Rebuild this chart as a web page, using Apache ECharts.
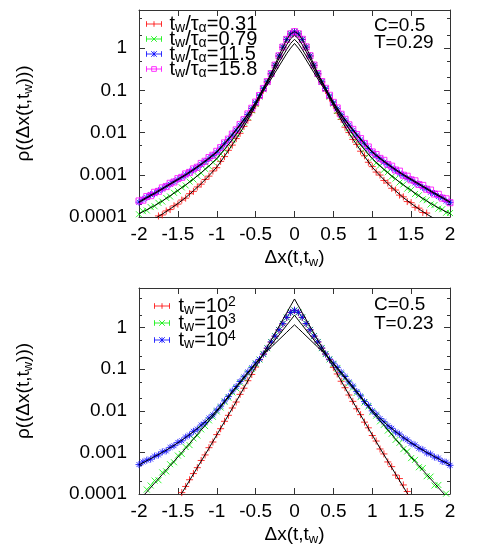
<!DOCTYPE html>
<html>
<head>
<meta charset="utf-8">
<title>rho(dx)</title>
<script src="https://cdn.jsdelivr.net/npm/echarts@6/dist/echarts.min.js"></script>
<style>
  html, body { margin: 0; padding: 0; background: #fff; }
  #chart { width: 485px; height: 555px; }
</style>
</head>
<body>
<div id="chart"></div>
<script>
// x positions of the measured points (step 0.05) and of the fit curves
const xData = [-2, -1.95, -1.9, -1.85, -1.8, -1.75, -1.7, -1.65, -1.6, -1.55,
  -1.5, -1.45, -1.4, -1.35, -1.3, -1.25, -1.2, -1.15, -1.1, -1.05,
  -1, -0.95, -0.9, -0.85, -0.8, -0.75, -0.7, -0.65, -0.6, -0.55,
  -0.5, -0.45, -0.4, -0.35, -0.3, -0.25, -0.2, -0.15, -0.1, -0.05,
  0,
  0.05, 0.1, 0.15, 0.2, 0.25, 0.3, 0.35, 0.4, 0.45, 0.5,
  0.55, 0.6, 0.65, 0.7, 0.75, 0.8, 0.85, 0.9, 0.95, 1,
  1.05, 1.1, 1.15, 1.2, 1.25, 1.3, 1.35, 1.4, 1.45, 1.5,
  1.55, 1.6, 1.65, 1.7, 1.75, 1.8, 1.85, 1.9, 1.95, 2];
const xFit = [-2, -1.9, -1.8, -1.7, -1.6, -1.5, -1.4, -1.3, -1.2, -1.1,
  -1, -0.9, -0.8, -0.7, -0.6, -0.5, -0.4, -0.3, -0.2, -0.1,
  -0.05, 0, 0.05,
  0.1, 0.2, 0.3, 0.4, 0.5, 0.6, 0.7, 0.8, 0.9, 1,
  1.1, 1.2, 1.3, 1.4, 1.5, 1.6, 1.7, 1.8, 1.9, 2];

// ---- top panel, C=0.5 T=0.29 ----
const top031 = [0.000058, 0.000062, 0.000069, 0.000082, 0.000088, 0.000106, 0.000112, 0.000139, 0.000150, 0.000184,
  0.000202, 0.000252, 0.000280, 0.000356, 0.000405, 0.000515, 0.000600, 0.000775, 0.000930, 0.00123,
  0.00147, 0.00208, 0.00270, 0.00380, 0.00505, 0.00720, 0.00960, 0.0140, 0.0196, 0.0300,
  0.0432, 0.0668, 0.101, 0.156, 0.243, 0.388, 0.645, 1.04, 1.59, 2.15,
  2.42,
  2.16, 1.60, 1.05, 0.648, 0.390, 0.244, 0.157, 0.0990, 0.0655, 0.0445,
  0.0288, 0.0205, 0.0134, 0.0100, 0.00690, 0.00525, 0.00362, 0.00282, 0.00198, 0.00156,
  0.00116, 0.000985, 0.000735, 0.000640, 0.000480, 0.000435, 0.000330, 0.000300, 0.000232, 0.000218,
  0.000170, 0.000162, 0.000128, 0.000124, 0.0000980, 0.0000950, 0.0000760, 0.0000720, 0.0000600, 0.0000560];
const top079 = [0.000116, 0.000138, 0.000143, 0.000172, 0.000180, 0.000216, 0.000232, 0.000283, 0.000306, 0.000374,
  0.000415, 0.000503, 0.000560, 0.000690, 0.000775, 0.000950, 0.00110, 0.00138, 0.00159, 0.00199,
  0.00236, 0.00315, 0.00392, 0.00520, 0.00668, 0.00925, 0.0121, 0.0172, 0.0231, 0.0335,
  0.0474, 0.0712, 0.106, 0.158, 0.245, 0.390, 0.650, 1.05, 1.60, 2.16,
  2.43,
  2.16, 1.60, 1.05, 0.650, 0.390, 0.245, 0.158, 0.107, 0.0700, 0.0485,
  0.0325, 0.0238, 0.0166, 0.0126, 0.00890, 0.00690, 0.00500, 0.00405, 0.00300, 0.00246,
  0.00190, 0.00166, 0.00131, 0.00115, 0.000905, 0.000815, 0.000655, 0.000590, 0.000470, 0.000440,
  0.000350, 0.000328, 0.000262, 0.000250, 0.000198, 0.000192, 0.000158, 0.000153, 0.000126, 0.000124];
const top115 = [0.000225, 0.000262, 0.000290, 0.000340, 0.000355, 0.000420, 0.000460, 0.000540, 0.000600, 0.000690,
  0.000770, 0.000880, 0.000990, 0.00116, 0.00131, 0.00152, 0.00176, 0.00208, 0.00243, 0.00288,
  0.00342, 0.00430, 0.00545, 0.00680, 0.00880, 0.0114, 0.0150, 0.0198, 0.0268, 0.0370,
  0.0512, 0.0745, 0.110, 0.160, 0.248, 0.394, 0.655, 1.06, 1.61, 2.17,
  2.44,
  2.17, 1.61, 1.06, 0.655, 0.394, 0.248, 0.160, 0.110, 0.0740, 0.0508,
  0.0366, 0.0265, 0.0196, 0.0149, 0.0112, 0.00875, 0.00670, 0.00540, 0.00420, 0.00340,
  0.00278, 0.00240, 0.00200, 0.00174, 0.00146, 0.00129, 0.00109, 0.000975, 0.000830, 0.000765,
  0.000640, 0.000595, 0.000500, 0.000465, 0.000385, 0.000360, 0.000305, 0.000285, 0.000238, 0.000222];
const top158 = [0.000240, 0.000250, 0.000305, 0.000320, 0.000385, 0.000405, 0.000490, 0.000525, 0.000630, 0.000675,
  0.000810, 0.000870, 0.00105, 0.00114, 0.00138, 0.00151, 0.00186, 0.00209, 0.00256, 0.00290,
  0.00360, 0.00440, 0.00570, 0.00700, 0.00920, 0.0116, 0.0156, 0.0202, 0.0277, 0.0377,
  0.0528, 0.0755, 0.111, 0.161, 0.250, 0.396, 0.658, 1.06, 1.61, 2.18,
  2.46,
  2.19, 1.62, 1.07, 0.661, 0.398, 0.251, 0.162, 0.112, 0.0765, 0.0520,
  0.0384, 0.0272, 0.0206, 0.0153, 0.0119, 0.00900, 0.00720, 0.00553, 0.00456, 0.00348,
  0.00302, 0.00245, 0.00220, 0.00176, 0.00160, 0.00130, 0.00122, 0.000980, 0.000925, 0.000760,
  0.000720, 0.000590, 0.000560, 0.000455, 0.000435, 0.000350, 0.000345, 0.000280, 0.000270, 0.000218];

// fits for the top panel (on xFit)
const fitTop031 = [0.0000562, 0.0000708, 0.0000912, 0.000117, 0.000155, 0.000209, 0.000288, 0.000417, 0.000617, 0.000955,
  0.00151, 0.00275, 0.00513, 0.00977, 0.0200, 0.0437, 0.0977, 0.186, 0.372, 0.741,
  1.00, 1.29, 1.00,
  0.741, 0.372, 0.186, 0.0977, 0.0437, 0.0200, 0.00977, 0.00513, 0.00275, 0.00151,
  0.000955, 0.000617, 0.000417, 0.000288, 0.000209, 0.000155, 0.000117, 0.0000912, 0.0000708, 0.0000562];
const fitTop079 = [0.000120, 0.000148, 0.000186, 0.000240, 0.000316, 0.000427, 0.000575, 0.000794, 0.00112, 0.00162,
  0.00240, 0.00398, 0.00676, 0.0123, 0.0234, 0.0479, 0.105, 0.214, 0.457, 0.933,
  1.29, 1.62, 1.29,
  0.933, 0.457, 0.214, 0.105, 0.0479, 0.0234, 0.0123, 0.00676, 0.00398, 0.00240,
  0.00162, 0.00112, 0.000794, 0.000575, 0.000427, 0.000316, 0.000240, 0.000186, 0.000148, 0.000120];
const fitTop115 = [0.000219, 0.000282, 0.000355, 0.000457, 0.000589, 0.000759, 0.000977, 0.00129, 0.00174, 0.00240,
  0.00339, 0.00537, 0.00871, 0.0148, 0.0263, 0.0501, 0.110, 0.240, 0.562, 1.20,
  1.66, 2.04, 1.66,
  1.20, 0.562, 0.240, 0.110, 0.0501, 0.0263, 0.0148, 0.00871, 0.00537, 0.00339,
  0.00240, 0.00174, 0.00129, 0.000977, 0.000759, 0.000589, 0.000457, 0.000355, 0.000282, 0.000219];
const fitTop158 = [0.000229, 0.000295, 0.000372, 0.000479, 0.000617, 0.000794, 0.00102, 0.00135, 0.00182, 0.00251,
  0.00355, 0.00562, 0.00912, 0.0155, 0.0275, 0.0525, 0.112, 0.251, 0.661, 1.62,
  2.19, 2.46, 2.19,
  1.62, 0.661, 0.251, 0.112, 0.0525, 0.0275, 0.0155, 0.00912, 0.00562, 0.00355,
  0.00251, 0.00182, 0.00135, 0.00102, 0.000794, 0.000617, 0.000479, 0.000372, 0.000295, 0.000229];

// ---- bottom panel, C=0.5 T=0.23 ----
const bot1e2 = [0.0000024, 0.0000034, 0.0000048, 0.0000068, 0.0000098, 0.0000135, 0.0000195, 0.0000270, 0.0000390, 0.0000540,
  0.0000770, 0.000108, 0.000152, 0.000220, 0.000310, 0.000430, 0.000640, 0.000870, 0.00130, 0.00178,
  0.00268, 0.00372, 0.00560, 0.00780, 0.0117, 0.0163, 0.0249, 0.0350, 0.0530, 0.0750,
  0.113, 0.168, 0.230, 0.319, 0.450, 0.622, 0.878, 1.23, 1.75, 2.30,
  2.60,
  2.31, 1.76, 1.24, 0.880, 0.624, 0.452, 0.320, 0.231, 0.170, 0.111,
  0.0770, 0.0515, 0.0360, 0.0240, 0.0169, 0.0112, 0.00810, 0.00535, 0.00390, 0.00255,
  0.00188, 0.00121, 0.000920, 0.000590, 0.000455, 0.000285, 0.000235, 0.000165, 0.000115, 0.0000800,
  0.0000560, 0.0000400, 0.0000280, 0.0000200, 0.0000140, 0.0000100, 0.0000070, 0.0000050, 0.0000035, 0.0000025];
const bot1e3 = [0.0000760, 0.0000980, 0.000128, 0.000160, 0.000210, 0.000215, 0.000330, 0.000350, 0.000520, 0.000580,
  0.000840, 0.000920, 0.00135, 0.00150, 0.00218, 0.00255, 0.00358, 0.00430, 0.00590, 0.00720,
  0.00965, 0.0120, 0.0165, 0.0207, 0.0278, 0.0350, 0.0472, 0.0598, 0.0798, 0.101,
  0.136, 0.171, 0.231, 0.321, 0.453, 0.625, 0.882, 1.24, 1.76, 2.31,
  2.61,
  2.32, 1.77, 1.25, 0.885, 0.627, 0.454, 0.322, 0.232, 0.172, 0.133,
  0.104, 0.0780, 0.0615, 0.0460, 0.0362, 0.0270, 0.0214, 0.0158, 0.0127, 0.00930,
  0.00765, 0.00560, 0.00462, 0.00335, 0.00280, 0.00200, 0.00170, 0.00120, 0.00106, 0.000730,
  0.000660, 0.000440, 0.000420, 0.000268, 0.000262, 0.000160, 0.000165, 0.000098, 0.000102, 0.0000640];
const bot1e4 = [0.000510, 0.000590, 0.000650, 0.000690, 0.000815, 0.000870, 0.00103, 0.00109, 0.00132, 0.00145,
  0.00174, 0.00190, 0.00234, 0.00262, 0.00322, 0.00364, 0.00456, 0.00526, 0.00672, 0.00800,
  0.0104, 0.0130, 0.0173, 0.0220, 0.0300, 0.0383, 0.0508, 0.0655, 0.0860, 0.109,
  0.142, 0.173, 0.233, 0.322, 0.455, 0.628, 0.887, 1.25, 1.77, 2.33,
  2.63,
  2.34, 1.78, 1.26, 0.891, 0.631, 0.457, 0.324, 0.234, 0.176, 0.140,
  0.111, 0.0845, 0.0668, 0.0495, 0.0395, 0.0290, 0.0228, 0.0167, 0.0135, 0.0100,
  0.00830, 0.00650, 0.00548, 0.00438, 0.00380, 0.00310, 0.00276, 0.00224, 0.00200, 0.00166,
  0.00152, 0.00126, 0.00116, 0.000975, 0.000915, 0.000775, 0.000730, 0.000610, 0.000580, 0.000490];

const fitBot1e2 = [0.0000021, 0.0000043, 0.0000087, 0.0000178, 0.0000363, 0.0000741, 0.000148, 0.000302, 0.000617, 0.00126,
  0.00263, 0.00550, 0.0115, 0.0245, 0.0525, 0.112, 0.240, 0.501, 1.07, 2.29,
  3.35, 4.90, 3.35,
  2.29, 1.07, 0.501, 0.240, 0.112, 0.0525, 0.0245, 0.0115, 0.00550, 0.00263,
  0.00126, 0.000617, 0.000302, 0.000148, 0.0000741, 0.0000363, 0.0000178, 0.0000087, 0.0000043, 0.0000021];
const fitBot1e3 = [0.0000708, 0.000112, 0.000182, 0.000295, 0.000479, 0.000776, 0.00126, 0.00209, 0.00347, 0.00575,
  0.00955, 0.0162, 0.0275, 0.0468, 0.0794, 0.135, 0.229, 0.389, 0.661, 1.15,
  1.51, 2.00, 1.51,
  1.15, 0.661, 0.389, 0.229, 0.135, 0.0794, 0.0468, 0.0275, 0.0162, 0.00955,
  0.00575, 0.00347, 0.00209, 0.00126, 0.000776, 0.000479, 0.000295, 0.000182, 0.000112, 0.0000708];
const fitBot1e4 = [0.000501, 0.000631, 0.000794, 0.00100, 0.00129, 0.00170, 0.00229, 0.00316, 0.00447, 0.00661,
  0.0102, 0.0170, 0.0295, 0.0501, 0.0851, 0.141, 0.224, 0.339, 0.513, 0.776,
  0.955, 1.17, 0.955,
  0.776, 0.513, 0.339, 0.224, 0.141, 0.0851, 0.0501, 0.0295, 0.0170, 0.0102,
  0.00661, 0.00447, 0.00316, 0.00229, 0.00170, 0.00129, 0.00100, 0.000794, 0.000631, 0.000501];

// axis ticks
const yTicks = [0.0001, 0.001, 0.01, 0.1, 1];
const yTickLabels = ["0.0001", "0.001", "0.01", "0.1", "1"];
const yMinor = [0.0002, 0.0005, 0.002, 0.005, 0.02, 0.05, 0.2, 0.5, 2, 5];
const yMax = [8, 9];

const topNames = ["0.31", "0.79", "11.5", "15.8"];
const botNames = ["2", "3", "4"];
const panelText = ["C=0.5\nT=0.29", "C=0.5\nT=0.23"];

const FONT = "Liberation Sans";
const RED = "#ff0000", GREEN = "#00f000", BLUE = "#0000ff", MAGENTA = "#ff00ff";

// gnuplot like point types
const SYM_PLUS = "path://M0,5L10,5M5,0L5,10";
const SYM_CROSS = "path://M0,0L10,10M10,0L0,10";
const SYM_STAR = "path://M0,5L10,5M5,0L5,10M1.5,1.5L8.5,8.5M8.5,1.5L1.5,8.5";
const SYM_BOX = "path://M0,0L10,0L10,10L0,10Z";
// legend samples: error bar with the point in the middle
const ICONS = [
  "path://M0,3L16,3M0,0L0,6M16,0L16,6M8,0L8,6",
  "path://M0,3L16,3M0,0L0,6M16,0L16,6M5,0L11,6M11,0L5,6",
  "path://M0,3L16,3M0,0L0,6M16,0L16,6M8,0L8,6M5,0L11,6M11,0L5,6",
  "path://M0,3L16,3M0,0L0,6M16,0L16,6M5.5,0.5L10.5,0.5L10.5,5.5L5.5,5.5Z"
];

const rich = {
  n: { fontSize: 19, lineHeight: 22, fontFamily: FONT, color: "#000" },
  s: { fontSize: 13, lineHeight: 10, verticalAlign: "bottom", fontFamily: FONT, color: "#000" },
  p: { fontSize: 13, lineHeight: 10, verticalAlign: "top", fontFamily: FONT, color: "#000" }
};
// legend text is a bit larger than the axis text
const richKey = {
  n: { fontSize: 20, lineHeight: 22, fontFamily: FONT, color: "#000" },
  s: { fontSize: 14, lineHeight: 10, verticalAlign: "bottom", fontFamily: FONT, color: "#000" },
  p: { fontSize: 14, lineHeight: 10, verticalAlign: "top", fontFamily: FONT, color: "#000" }
};

function pairs(xs, ys) {
  return xs.map((x, i) => [x, ys[i]]);
}

function points(name, ys, sym, size, color, g) {
  return {
    name: name,
    type: "scatter",
    xAxisIndex: g * 2,
    yAxisIndex: g * 4,
    data: pairs(xData, ys),
    symbol: sym,
    symbolSize: size,
    itemStyle: { color: "rgba(0,0,0,0)", borderColor: color, borderWidth: 1 },
    silent: true
  };
}

function fit(ys, g) {
  return {
    type: "line",
    xAxisIndex: g * 2,
    yAxisIndex: g * 4,
    data: pairs(xFit, ys),
    symbol: "none",
    lineStyle: { color: "#000", width: 1 },
    z: 5,
    silent: true
  };
}

function yLabel(v) {
  for (let i = 0; i < yTicks.length; i++) {
    if (Math.abs(Math.log10(v) - Math.log10(yTicks[i])) < 0.01) return yTickLabels[i];
  }
  return "";
}

const xAxes = [];
const yAxes = [];
const grids = [
  { left: 139, width: 311, top: 10, height: 207 },
  { left: 139, width: 311, top: 288, height: 206 }
];
[0, 1].forEach(function (g) {
  const line = { show: true, onZero: false, lineStyle: { color: "#333", width: 1 } };
  const noLine = { show: false, onZero: false };
  xAxes.push({
    gridIndex: g, type: "value", min: -2, max: 2, interval: 0.5,
    axisLine: line,
    axisTick: { inside: true, length: 6, lineStyle: { color: "#333" } },
    axisLabel: { fontSize: 19, fontFamily: FONT, color: "#000", margin: 8 },
    splitLine: { show: false },
    name: "{n|Δx(t,t}{s|w}{n|)}",
    nameLocation: "middle", nameGap: 30,
    nameTextStyle: { rich: rich, verticalAlign: "top" }
  });
  xAxes.push({
    gridIndex: g, type: "value", min: -2, max: 2, interval: 0.5, position: "top",
    axisLine: line,
    axisTick: { inside: true, length: 6, lineStyle: { color: "#333" } },
    axisLabel: { show: false },
    splitLine: { show: false }
  });
  const base = { gridIndex: g, type: "log", logBase: 10, min: 0.0001, max: yMax[g], splitLine: { show: false } };
  yAxes.push(Object.assign({}, base, {
    position: "left",
    axisLine: line,
    axisTick: { inside: true, length: 6, customValues: yTicks, lineStyle: { color: "#333" } },
    axisLabel: { customValues: yTicks, formatter: yLabel, fontSize: 19, fontFamily: FONT, color: "#000", margin: 12 },
    name: "{n|ρ((Δx(t,t}{s|w}{n|)))}",
    nameLocation: "middle", nameGap: 104,
    nameTextStyle: { rich: rich }
  }));
  yAxes.push(Object.assign({}, base, {
    position: "right",
    axisLine: line,
    axisTick: { inside: true, length: 6, customValues: yTicks, lineStyle: { color: "#333" } },
    axisLabel: { show: false }
  }));
  // minor ticks at 2 and 5 of each decade
  yAxes.push(Object.assign({}, base, {
    position: "left",
    axisLine: noLine,
    axisTick: { inside: true, length: 3, customValues: yMinor, lineStyle: { color: "#333" } },
    axisLabel: { show: false }
  }));
  yAxes.push(Object.assign({}, base, {
    position: "right",
    axisLine: noLine,
    axisTick: { inside: true, length: 3, customValues: yMinor, lineStyle: { color: "#333" } },
    axisLabel: { show: false }
  }));
});

const topColors = [RED, GREEN, BLUE, MAGENTA];
const botColors = [RED, GREEN, BLUE];

const option = {
  animation: false,
  backgroundColor: "#fff",
  grid: grids,
  xAxis: xAxes,
  yAxis: yAxes,
  title: [
    { text: panelText[0], left: 369, top: 12, textStyle: { fontSize: 19, fontWeight: "normal", fontFamily: FONT, color: "#000", lineHeight: 17 } },
    { text: panelText[1], left: 369, top: 290, textStyle: { fontSize: 19, fontWeight: "normal", fontFamily: FONT, color: "#000", lineHeight: 19 } }
  ],
  legend: [
    {
      data: topNames.map((n, i) => ({
        name: "top" + n, icon: ICONS[i],
        itemStyle: { color: "rgba(0,0,0,0)", borderColor: topColors[i], borderWidth: 1 }
      })),
      orient: "vertical", left: 141, top: 9,
      itemWidth: 15, itemHeight: 6, itemGap: -6,
      selectedMode: false,
      formatter: function (name) {
        return "{n|t}{s|w}{n|/τ}{s|α}{n|=" + name.slice(3) + "}";
      },
      textStyle: { rich: richKey, padding: [0, 0, 0, 3] }
    },
    {
      data: botNames.map((n, i) => ({
        name: "bot" + n, icon: ICONS[i],
        itemStyle: { color: "rgba(0,0,0,0)", borderColor: botColors[i], borderWidth: 1 }
      })),
      orient: "vertical", left: 149, top: 290,
      itemWidth: 15, itemHeight: 6, itemGap: -5,
      selectedMode: false,
      formatter: function (name) {
        return "{n|t}{s|w}{n|=10}{p|" + name.slice(3) + "}";
      },
      textStyle: { rich: richKey, padding: [0, 0, 0, 4] }
    }
  ],
  series: [
    points("top0.31", top031, SYM_PLUS, 7, RED, 0),
    points("top0.79", top079, SYM_CROSS, 6, GREEN, 0),
    points("top11.5", top115, SYM_STAR, 7, BLUE, 0),
    points("top15.8", top158, SYM_BOX, 6, MAGENTA, 0),
    fit(fitTop031, 0),
    fit(fitTop079, 0),
    fit(fitTop115, 0),
    fit(fitTop158, 0),
    points("bot2", bot1e2, SYM_PLUS, 7, RED, 1),
    points("bot3", bot1e3, SYM_CROSS, 6, GREEN, 1),
    points("bot4", bot1e4, SYM_STAR, 7, BLUE, 1),
    fit(fitBot1e2, 1),
    fit(fitBot1e3, 1),
    fit(fitBot1e4, 1)
  ]
};

const chart = echarts.init(document.getElementById("chart"), null, { renderer: "canvas" });
chart.setOption(option);
</script>
</body>
</html>
